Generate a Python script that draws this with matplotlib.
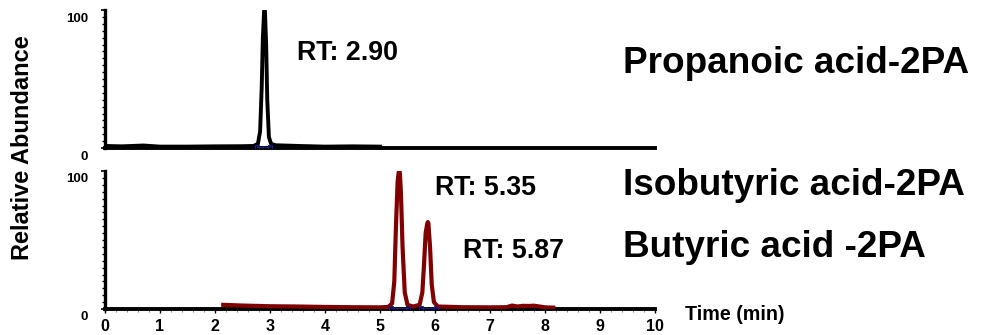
import numpy as np
import matplotlib.pyplot as plt
import matplotlib.transforms as mtransforms
from matplotlib.ticker import MultipleLocator, FixedLocator

plt.rcParams['font.family'] = ['Liberation Sans', 'DejaVu Sans']
plt.rcParams['font.weight'] = 'bold'

# --- chromatogram traces (time in min, relative abundance %) ---
prop_time = [0.0, 0.3, 0.7, 1.0, 1.5, 2.0, 2.5, 2.70, 2.78, 2.82, 2.85, 2.87, 2.89,
             2.90, 2.91, 2.93, 2.95, 2.98, 3.02, 3.10, 3.5, 4.0, 4.5, 5.0]
prop_int = [1.5, 1.2, 1.8, 1.0, 1.0, 1.2, 1.3, 1.5, 3.0, 12, 45, 80, 97,
            100, 97, 75, 35, 8, 3.0, 2.0, 1.5, 1.0, 1.2, 1.0]

buty_time = [2.15, 2.5, 3.0, 3.5, 4.0, 4.5, 5.0, 5.15, 5.22, 5.26, 5.29, 5.32, 5.34,
             5.35, 5.36, 5.38, 5.41, 5.45, 5.50, 5.60, 5.72, 5.77, 5.80, 5.83, 5.86,
             5.87, 5.88, 5.91, 5.94, 5.98, 6.05, 6.5, 7.0, 7.3, 7.4, 7.5, 7.6, 7.7,
             7.8, 7.9, 8.0, 8.15]
buty_int = [3.0, 2.5, 2.0, 1.8, 1.5, 1.3, 1.2, 1.5, 4.0, 20, 60, 92, 99,
            100, 99, 85, 45, 12, 3.0, 1.8, 3.0, 12, 32, 55, 62,
            63, 62, 45, 18, 5.0, 1.8, 1.3, 1.2, 1.3, 2.5, 1.8, 2.3, 2.2,
            2.4, 1.8, 1.2, 1.0]

# integration baselines (start, end) for each peak
prop_base = [(2.76, 3.00)]
buty_base = [(5.20, 5.50), (5.74, 6.02)]

rt_labels_top = ["RT: 2.90"]
rt_labels_bot = ["RT: 5.35", "RT: 5.87"]
names = ["Propanoic acid-2PA", "Isobutyric acid-2PA", "Butyric acid -2PA"]

fig = plt.figure(figsize=(9.84, 3.35), dpi=100)
ax1 = fig.add_axes([105/984, 1 - 148/335, 550/984, 138/335])
ax2 = fig.add_axes([105/984, 1 - 309/335, 550/984, 138/335])

red = '#800000'
ax1.plot(prop_time, prop_int, color='black', lw=2.8, solid_joinstyle='round', zorder=3)
ax2.plot(buty_time, buty_int, color=red, lw=3.0, solid_joinstyle='round', zorder=3)

for s, e in prop_base:
    ax1.plot([s, e], [0.6, 0.6], color='#1a1a8c', lw=0.9, marker='s', ms=2.5,
             mfc='none', mew=0.7, zorder=4)
for s, e in buty_base:
    ax2.plot([s, e], [0.6, 0.6], color='#1a1a8c', lw=0.9, marker='s', ms=2.5,
             mfc='none', mew=0.7, zorder=4)

down = mtransforms.ScaledTranslation(0, -7/100, fig.dpi_scale_trans)
for ax in (ax1, ax2):
    ax.set_xlim(0, 10)
    ax.set_ylim(0, 100)
    ax.spines['top'].set_visible(False)
    ax.spines['right'].set_visible(False)
    ax.spines['left'].set_linewidth(2.4)
    ax.spines['bottom'].set_linewidth(2.8)
    ax.yaxis.set_major_locator(FixedLocator([0, 100]))
    ax.yaxis.set_minor_locator(MultipleLocator(5))
    ax.tick_params(axis='y', which='major', length=3, width=1.2, labelsize=9.5, pad=9)
    ax.tick_params(axis='y', which='minor', length=2.5, width=1.0)
    for lab in ax.get_yticklabels():
        lab.set_transform(lab.get_transform() + down)
        lab.set_fontweight('bold')
    ax.xaxis.set_major_locator(MultipleLocator(1))
    ax.xaxis.set_minor_locator(MultipleLocator(0.2))
    ax.tick_params(axis='x', which='major', length=3, width=1.0)
    ax.tick_params(axis='x', which='minor', length=2, width=0.8, color='#888888')

ax1.tick_params(axis='x', which='both', length=0, labelbottom=False)
ax2.tick_params(axis='x', which='major', labelsize=11.5, pad=4)
for lab in ax2.get_xticklabels():
    lab.set_fontweight('bold')

fig.text(23/984, 1 - 148/335, "Relative Abundance", rotation=90, ha='center', va='center',
         fontsize=17, fontweight='bold')
fig.text(685/984, 1 - 320/335, "Time (min)", ha='left', va='baseline',
         fontsize=14.2, fontweight='bold')

fig.text(297/984, 1 - 60/335, rt_labels_top[0], ha='left', va='baseline',
         fontsize=19.3, fontweight='bold')
fig.text(435/984, 1 - 195/335, rt_labels_bot[0], ha='left', va='baseline',
         fontsize=19.3, fontweight='bold')
fig.text(463/984, 1 - 258/335, rt_labels_bot[1], ha='left', va='baseline',
         fontsize=19.3, fontweight='bold')

fig.text(623/984, 1 - 73/335, names[0], ha='left', va='baseline', fontsize=26.6, fontweight='bold')
fig.text(623/984, 1 - 195/335, names[1], ha='left', va='baseline', fontsize=26.6, fontweight='bold')
fig.text(623/984, 1 - 257/335, names[2], ha='left', va='baseline', fontsize=26.6, fontweight='bold')

fig.savefig('out.png', dpi=100, facecolor='white')
